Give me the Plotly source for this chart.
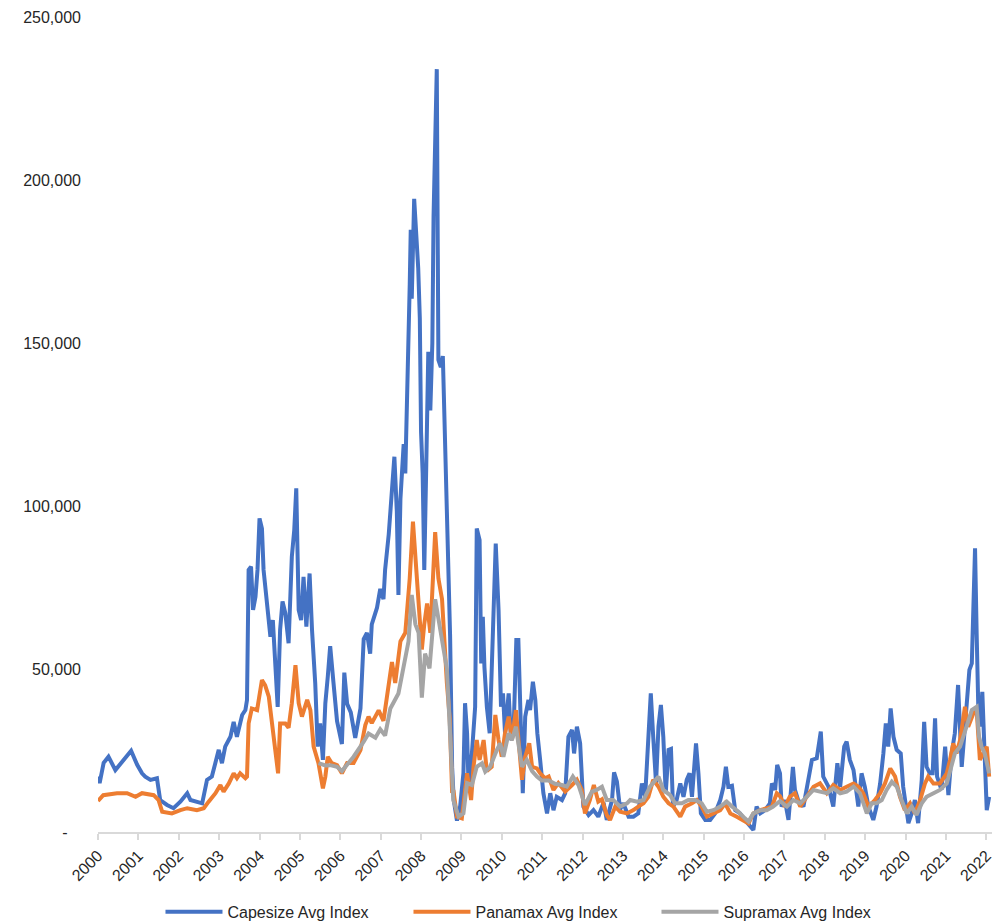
import plotly.graph_objects as go

# decimal years / values
cape_t = [2000.00, 2000.04, 2000.14, 2000.26, 2000.43, 2000.60, 2000.68, 2000.82, 2000.97, 2001.09,
          2001.17, 2001.30, 2001.46, 2001.54, 2001.71, 2001.87, 2002.04, 2002.21, 2002.29, 2002.45,
          2002.58, 2002.70, 2002.82, 2002.99, 2003.07, 2003.15, 2003.28, 2003.36, 2003.44, 2003.57,
          2003.65, 2003.69, 2003.73, 2003.79, 2003.84, 2003.90, 2003.95, 2004.00, 2004.06, 2004.10,
          2004.19, 2004.27, 2004.33, 2004.39, 2004.45, 2004.51, 2004.57, 2004.64, 2004.72, 2004.80,
          2004.86, 2004.91, 2004.97, 2005.03, 2005.09, 2005.16, 2005.24, 2005.30, 2005.38, 2005.44,
          2005.50, 2005.57, 2005.63, 2005.69, 2005.75, 2005.83, 2005.92, 2006.04, 2006.10, 2006.17,
          2006.26, 2006.37, 2006.50, 2006.58, 2006.66, 2006.74, 2006.78, 2006.91, 2006.99, 2007.07,
          2007.11, 2007.20, 2007.28, 2007.34, 2007.40, 2007.44, 2007.49, 2007.57, 2007.61, 2007.67,
          2007.72, 2007.745, 2007.77, 2007.83, 2007.89, 2007.93, 2007.97, 2008.00, 2008.04, 2008.08,
          2008.13, 2008.18, 2008.23, 2008.28, 2008.31, 2008.35, 2008.39, 2008.43, 2008.49, 2008.54,
          2008.60, 2008.66, 2008.72, 2008.77, 2008.81, 2008.89, 2008.97, 2009.05, 2009.09, 2009.14,
          2009.18, 2009.26, 2009.34, 2009.38, 2009.45, 2009.49, 2009.53, 2009.57, 2009.63, 2009.70,
          2009.75, 2009.79, 2009.85, 2009.92, 2009.98, 2010.03, 2010.08, 2010.17, 2010.23, 2010.29,
          2010.36, 2010.41, 2010.47, 2010.52, 2010.58, 2010.66, 2010.70, 2010.77, 2010.83, 2010.88,
          2010.95, 2011.03, 2011.12, 2011.20, 2011.28, 2011.36, 2011.49, 2011.57, 2011.65, 2011.74,
          2011.79, 2011.86, 2011.94, 2012.02, 2012.15, 2012.27, 2012.39, 2012.52, 2012.60, 2012.73,
          2012.78, 2012.85, 2012.93, 2013.01, 2013.14, 2013.26, 2013.38, 2013.47, 2013.55, 2013.63,
          2013.69, 2013.75, 2013.82, 2013.88, 2013.94, 2014.00, 2014.06, 2014.13, 2014.19, 2014.24,
          2014.33, 2014.42, 2014.50, 2014.58, 2014.65, 2014.71, 2014.81, 2014.87, 2014.93, 2015.04,
          2015.16, 2015.28, 2015.41, 2015.49, 2015.55, 2015.61, 2015.70, 2015.78, 2015.90, 2016.02,
          2016.15, 2016.23, 2016.31, 2016.40, 2016.52, 2016.64, 2016.69, 2016.77, 2016.82, 2016.89,
          2016.93, 2017.01, 2017.10, 2017.21, 2017.26, 2017.34, 2017.47, 2017.59, 2017.68, 2017.80,
          2017.90, 2017.96, 2018.09, 2018.21, 2018.31, 2018.38, 2018.48, 2018.54, 2018.62, 2018.71,
          2018.83, 2018.91, 2018.99, 2019.08, 2019.20, 2019.28, 2019.37, 2019.45, 2019.51, 2019.57,
          2019.63, 2019.70, 2019.78, 2019.88, 2019.94, 2020.07, 2020.15, 2020.23, 2020.31, 2020.40,
          2020.46, 2020.52, 2020.60, 2020.67, 2020.73, 2020.78, 2020.89, 2020.98, 2021.06, 2021.14,
          2021.22, 2021.30, 2021.39, 2021.47, 2021.58, 2021.64, 2021.68, 2021.72, 2021.76, 2021.80,
          2021.84, 2021.90, 2021.95, 2022.01, 2022.07]
cape_v = [17000, 15000, 21200, 23100, 19000, 21600, 23100, 24900, 20600, 18000,
          17000, 16000, 16500, 9800, 8300, 7300, 9300, 11900, 9800, 9300,
          8800, 16000, 17000, 25200, 21100, 26200, 29200, 33800, 29200, 35900,
          37400, 40500, 80400, 81400, 68100, 72200, 80400, 96200, 93100, 80400,
          70200, 59900, 65000, 49700, 38400, 62000, 70700, 67100, 57900, 84400,
          92600, 105400, 68100, 65000, 78300, 63000, 79300, 62000, 45600, 26200,
          33300, 22100, 39500, 47600, 57000, 46000, 34000, 27000, 48900, 39300,
          36700, 28900, 37900, 59200, 61100, 54700, 63700, 68800, 74600, 71400,
          80400, 91300, 107400, 115100, 98400, 72700, 102200, 119000, 110000, 137000,
          167900, 184700, 163600, 194200, 180500, 173000, 157500, 122800, 110000, 80400,
          112600, 147300, 129300, 150000, 188700, 216900, 234000, 144800, 142600, 146000,
          116400, 84200, 60000, 19900, 9800, 3500, 8000, 18000, 39500, 30300,
          12900, 24100, 38400, 93100, 89600, 51700, 66000, 50600, 38400, 30300,
          50600, 63000, 88500, 68100, 38400, 42500, 30300, 42500, 28200, 30300,
          58900, 58900, 30300, 11900, 35400, 40500, 37400, 46100, 40500, 30300,
          22100, 11900, 5700, 11900, 6700, 10800, 9800, 11900, 29200, 31300,
          24100, 32300, 27200, 7800, 5200, 6700, 4700, 9000, 3700, 9800,
          18300, 15500, 7000, 8800, 4700, 4700, 5700, 14900, 10800, 29200,
          42500, 29200, 14900, 32300, 39000, 29200, 11900, 25200, 25500, 7800,
          9800, 14900, 10800, 16000, 18000, 10800, 27200, 18000, 5700, 3700,
          3700, 5700, 9800, 13900, 20000, 13900, 14200, 6700, 5700, 3700,
          1600, 600, 7800, 5700, 6700, 8800, 14900, 12900, 20600, 18000,
          7800, 9800, 3700, 20000, 12900, 9800, 7800, 17000, 22100, 22600,
          30800, 17000, 13900, 7800, 21100, 13900, 26200, 27700, 22100, 19000,
          7800, 18000, 13900, 7800, 3700, 7800, 14900, 24100, 33300, 26200,
          37900, 29200, 25200, 24100, 13900, 2700, 5700, 9800, 2700, 16000,
          33800, 20000, 18000, 18000, 34900, 17000, 12900, 26200, 11300, 24100,
          30300, 45100, 20000, 32300, 49700, 51700, 75200, 87000, 60900, 38400,
          32300, 43000, 26200, 6700, 10800]

pana_t = [2000.00, 2000.13, 2000.47, 2000.72, 2000.93, 2001.09, 2001.38, 2001.50, 2001.59, 2001.83,
          2002.04, 2002.21, 2002.45, 2002.62, 2002.74, 2002.91, 2003.03, 2003.11, 2003.24, 2003.36,
          2003.44, 2003.52, 2003.65, 2003.69, 2003.73, 2003.81, 2003.94, 2004.06, 2004.14, 2004.23,
          2004.31, 2004.39, 2004.46, 2004.51, 2004.64, 2004.72, 2004.80, 2004.89, 2004.97, 2005.05,
          2005.18, 2005.26, 2005.34, 2005.46, 2005.57, 2005.63, 2005.69, 2005.79, 2005.92, 2006.04,
          2006.17, 2006.33, 2006.50, 2006.62, 2006.70, 2006.78, 2006.95, 2007.07, 2007.17, 2007.28,
          2007.36, 2007.49, 2007.61, 2007.72, 2007.80, 2007.86, 2007.94, 2008.02, 2008.08, 2008.15,
          2008.23, 2008.35, 2008.43, 2008.52, 2008.64, 2008.71, 2008.77, 2008.80, 2008.89, 2009.01,
          2009.14, 2009.24, 2009.30, 2009.38, 2009.45, 2009.55, 2009.63, 2009.75, 2009.84, 2009.92,
          2010.00, 2010.08, 2010.17, 2010.25, 2010.35, 2010.41, 2010.50, 2010.58, 2010.68, 2010.75,
          2010.87, 2010.95, 2011.07, 2011.16, 2011.28, 2011.40, 2011.57, 2011.74, 2011.86, 2011.98,
          2012.06, 2012.18, 2012.28, 2012.39, 2012.48, 2012.60, 2012.68, 2012.81, 2012.93, 2013.10,
          2013.26, 2013.38, 2013.51, 2013.63, 2013.75, 2013.88, 2014.00, 2014.13, 2014.25, 2014.42,
          2014.54, 2014.71, 2014.83, 2014.95, 2015.08, 2015.24, 2015.41, 2015.53, 2015.66, 2015.82,
          2015.98, 2016.11, 2016.23, 2016.40, 2016.56, 2016.69, 2016.81, 2016.89, 2017.01, 2017.13,
          2017.26, 2017.39, 2017.55, 2017.72, 2017.88, 2018.05, 2018.21, 2018.38, 2018.54, 2018.71,
          2018.83, 2018.95, 2019.08, 2019.24, 2019.37, 2019.49, 2019.62, 2019.74, 2019.86, 2019.98,
          2020.11, 2020.23, 2020.36, 2020.48, 2020.56, 2020.69, 2020.85, 2021.02, 2021.10, 2021.18,
          2021.26, 2021.35, 2021.47, 2021.55, 2021.68, 2021.76, 2021.84, 2021.93, 2022.01, 2022.07]
pana_v = [9500, 11300, 11900, 11900, 10800, 11900, 11300, 9800, 6200, 5700,
          6700, 7300, 6700, 7300, 9300, 11900, 14400, 12400, 14900, 18000,
          16500, 18000, 16500, 17000, 33300, 37900, 37400, 46600, 45000, 41500,
          33300, 24100, 18000, 33300, 33300, 32000, 39500, 51200, 39500, 35400,
          40500, 37400, 26200, 21100, 13400, 17000, 23100, 21100, 20500, 18000,
          21200, 21200, 25100, 32800, 35400, 33400, 37300, 34100, 41800, 52100,
          45700, 58500, 61100, 77800, 95200, 84200, 71400, 56000, 63700, 70100,
          61100, 92000, 77800, 71400, 45700, 35000, 12000, 12900, 4700, 4200,
          18000, 9800, 20000, 28200, 22100, 28200, 18700, 20000, 35900, 28200,
          23100, 30300, 35400, 28200, 37400, 28200, 16000, 23100, 27200, 20000,
          19500, 18000, 16500, 17000, 12900, 15000, 12400, 14400, 16000, 12900,
          5700, 9800, 14400, 9300, 10000, 5200, 3700, 7800, 6200, 5700,
          6700, 7800, 8800, 10800, 16000, 13900, 10800, 8800, 7800, 4700,
          7800, 8800, 9800, 7800, 4700, 5700, 6700, 8800, 5700, 4700,
          3700, 2600, 5700, 6700, 7300, 7800, 11900, 11000, 7800, 10800,
          11900, 7800, 10800, 13900, 14900, 11900, 14400, 12900, 13900, 14900,
          13900, 11900, 7800, 9800, 11900, 14900, 19500, 17000, 10800, 6700,
          8800, 5700, 9800, 14900, 17000, 14900, 14900, 18000, 22100, 27200,
          24100, 28200, 38400, 32300, 36400, 37400, 22100, 24100, 26200, 17000]

supra_t = [2005.46, 2005.63, 2005.75, 2005.92, 2006.04, 2006.33, 2006.58, 2006.70, 2006.87, 2006.99,
           2007.11, 2007.24, 2007.44, 2007.57, 2007.69, 2007.77, 2007.86, 2007.94, 2008.02, 2008.10,
           2008.21, 2008.35, 2008.48, 2008.64, 2008.70, 2008.80, 2008.93, 2009.05, 2009.14, 2009.26,
           2009.38, 2009.51, 2009.59, 2009.71, 2009.88, 2009.96, 2010.04, 2010.17, 2010.25, 2010.35,
           2010.41, 2010.50, 2010.62, 2010.75, 2010.87, 2010.99, 2011.16, 2011.32, 2011.49, 2011.61,
           2011.76, 2011.90, 2012.06, 2012.23, 2012.35, 2012.48, 2012.60, 2012.76, 2012.93, 2013.10,
           2013.18, 2013.35, 2013.51, 2013.67, 2013.88, 2014.00, 2014.17, 2014.29, 2014.46, 2014.62,
           2014.78, 2014.95, 2015.08, 2015.24, 2015.41, 2015.57, 2015.70, 2015.86, 2016.02, 2016.11,
           2016.23, 2016.40, 2016.56, 2016.72, 2016.89, 2017.06, 2017.22, 2017.39, 2017.55, 2017.72,
           2017.88, 2018.05, 2018.21, 2018.38, 2018.54, 2018.71, 2018.87, 2019.04, 2019.16, 2019.28,
           2019.41, 2019.53, 2019.66, 2019.78, 2019.90, 2020.03, 2020.15, 2020.27, 2020.40, 2020.52,
           2020.69, 2020.85, 2021.02, 2021.14, 2021.22, 2021.35, 2021.51, 2021.64, 2021.76, 2021.82,
           2021.88, 2021.96, 2022.07]
supra_v = [21100, 20400, 20500, 20000, 18700, 23100, 27700, 30200, 28900, 31500,
           29600, 37900, 42500, 50800, 58500, 72700, 63700, 61100, 41200, 54700,
           50200, 71400, 61100, 50000, 35000, 9800, 4700, 5700, 15000, 14400,
           20000, 21100, 18500, 20000, 25200, 27200, 23100, 30300, 28200, 32300,
           27200, 20000, 22100, 18700, 17000, 15800, 15800, 14800, 14400, 13900,
           17000, 14400, 8300, 12400, 12900, 13900, 9800, 9800, 7800, 8800,
           9800, 9300, 9800, 13900, 17000, 12900, 11300, 8800, 8800, 9800,
           9800, 8800, 6200, 6700, 7800, 9300, 7800, 6200, 4200, 3200,
           5700, 6700, 6700, 7800, 9500, 7800, 9800, 8800, 10800, 12900,
           12400, 11900, 13400, 11900, 12400, 13900, 11900, 5700, 8800, 8800,
           9800, 12900, 15400, 13900, 9800, 5700, 7800, 5200, 8800, 10800,
           11900, 12900, 14900, 20000, 24100, 26200, 32300, 37400, 38400, 29200,
           26200, 24100, 18000]

years = list(range(2000, 2023))
y_ticks = [0, 50000, 100000, 150000, 200000, 250000]
y_labels = ['-\u00a0\u00a0\u00a0', '50,000', '100,000', '150,000', '200,000', '250,000']

fig = go.Figure()
fig.add_trace(go.Scatter(x=cape_t, y=cape_v, name='Capesize Avg Index', mode='lines',
                         line=dict(color='#4472C4', width=4)))
fig.add_trace(go.Scatter(x=pana_t, y=pana_v, name='Panamax Avg Index', mode='lines',
                         line=dict(color='#ED7D31', width=4)))
fig.add_trace(go.Scatter(x=supra_t, y=supra_v, name='Supramax Avg Index', mode='lines',
                         line=dict(color='#A5A5A5', width=4)))

# page body has an 8px margin, so the figure is 8px smaller than the window
fig.update_layout(
    width=992, height=915,
    margin=dict(l=90, r=8, t=9, b=91, autoexpand=False),
    paper_bgcolor='white', plot_bgcolor='white',
    font=dict(family='Liberation Sans, Arial, sans-serif', size=16, color='#262626'),
    showlegend=True,
    legend=dict(orientation='h', x=0.486, xanchor='center', y=-0.098, yanchor='middle',
                itemwidth=57, entrywidth=176, font=dict(size=16)),
)
fig.update_xaxes(range=[2000, 2022.14], tickvals=years, ticktext=[str(y) for y in years],
                 tickangle=-45, showgrid=False, zeroline=False, automargin=False,
                 showline=True, linecolor='#D9D9D9', linewidth=2,
                 ticks='outside', ticklen=6, tickcolor='#D9D9D9', tickwidth=2)
fig.update_yaxes(range=[0, 250000], tickvals=y_ticks, ticktext=y_labels,
                 showgrid=False, zeroline=False, showline=False, automargin=False,
                 ticks='', ticklabelstandoff=16)

fig.write_html("out.html")
